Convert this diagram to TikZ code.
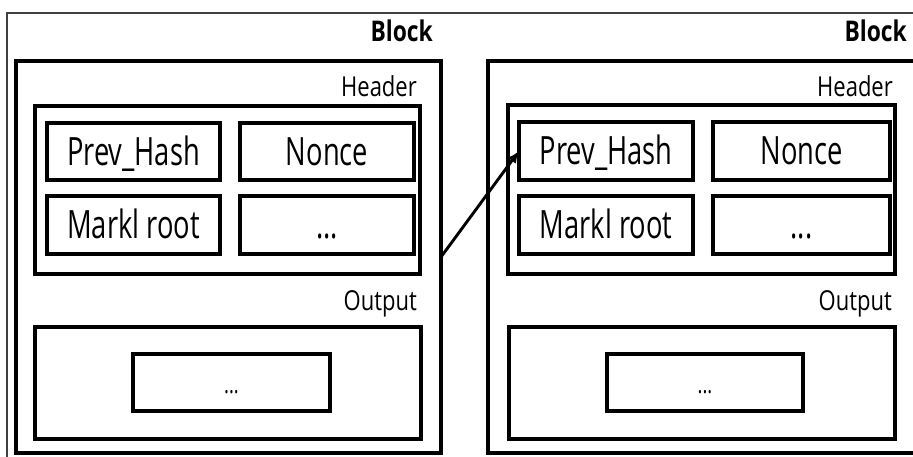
\documentclass[tikz,border=0pt]{standalone}
\usepackage{fontspec}
\setmainfont{Open Sans}[FakeStretch=0.70]
\newfontfamily\lblfont{Open Sans}[FakeStretch=0.80]
\usetikzlibrary{arrows.meta}
\tikzset{
  box/.style={draw=black, line width=3.6pt, inner sep=0pt, outer sep=0pt, rectangle},
  cell/.style={box, font=\fontsize{39}{41}\selectfont, text height=27.5pt, text depth=0pt},
  outdots/.style={box, font=\fontsize{26}{28}\selectfont, text height=21pt, text depth=0pt},
  lbl/.style={inner sep=0pt, anchor=base east, font=\lblfont\fontsize{27.5}{29}\selectfont},
  blocklbl/.style={inner sep=0pt, anchor=base east, font=\lblfont\fontsize{28.5}{31}\selectfont\bfseries},
  link/.style={line width=2.9pt, -{Latex[length=12pt,width=10pt]}},
  frame/.style={draw=black!75, line width=1.1pt}
}
\begin{document}
\begin{tikzpicture}[x=1pt,y=-1pt]
\useasboundingbox (0,0) rectangle (913,457);
% outer thin frame (cropped)
\draw[frame] (913,13) -- (7,13) -- (7,457);

% ---------- left block ----------
\node[box, minimum width=425pt, minimum height=392pt] (blk1) at (228.5,257) {};
\node[blocklbl] (bl1) at (433,42) {Block};
\node[lbl] (hl1) at (417,97) {Header};
\node[box, minimum width=385pt, minimum height=168pt] (hd1) at (227.5,190) {};
\node[cell, minimum width=173pt, minimum height=57pt] (ph1) at (133.5,151.5) {Prev\_Hash};
\node[cell, minimum width=174pt, minimum height=57pt] (nc1) at (327,151.5) {Nonce};
\node[cell, minimum width=173pt, minimum height=58pt] (mr1) at (133.5,225) {Markl root};
\node[cell, minimum width=174pt, minimum height=58pt] (dt1) at (327,225) {...};
\node[lbl] (ol1) at (417,310) {Output};
\node[box, minimum width=386pt, minimum height=112pt] (op1) at (228,383) {};
\node[outdots, minimum width=197pt, minimum height=57pt] (od1) at (231.5,382.5) {...};

% ---------- right block (cropped at right edge) ----------
\draw[line width=3.6pt] (913,61) -- (488,61) -- (488,453) -- (913,453);
\node[blocklbl] (bl2) at (907,42) {Block};
\node[lbl] (hl2) at (893,97) {Header};
\node[box, minimum width=387pt, minimum height=169pt] (hd2) at (701.5,189.5) {};
\node[cell, minimum width=174pt, minimum height=58pt] (ph2) at (606,151) {Prev\_Hash};
\node[cell, minimum width=177pt, minimum height=58pt] (nc2) at (801.5,151) {Nonce};
\node[cell, minimum width=174pt, minimum height=58pt] (mr2) at (606,225) {Markl root};
\node[cell, minimum width=177pt, minimum height=58pt] (dt2) at (801.5,225) {...};
\node[lbl] (ol2) at (892,310) {Output};
\node[box, minimum width=386pt, minimum height=112pt] (op2) at (702,383) {};
\node[outdots, minimum width=196pt, minimum height=57pt] (od2) at (705,382.5) {...};

% ---------- link ----------
\draw[link] (blk1.east) -- (ph2.west);
\end{tikzpicture}
\end{document}
